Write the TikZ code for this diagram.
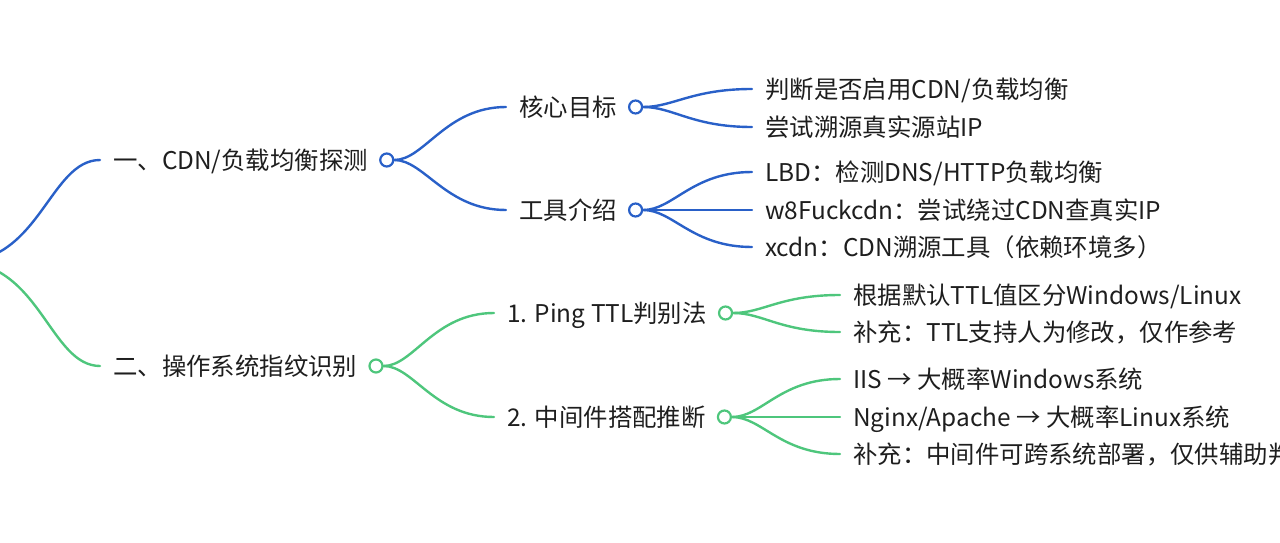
\documentclass[tikz,border=0pt]{standalone}
\usepackage{fontspec}
\setmainfont{Noto Sans CJK SC}
\definecolor{mmblue}{RGB}{41,96,200}
\definecolor{mmgreen}{RGB}{78,198,124}
\definecolor{mmtext}{RGB}{30,30,30}
\begin{document}
\begin{tikzpicture}[x=1pt,y=-1pt,
  lbl/.style={anchor=west,inner xsep=13pt,inner ysep=0pt,text=mmtext,
    font=\fontsize{24.4}{28}\selectfont,text height=21.3pt,text depth=3pt},
  dot/.style={circle,draw,line width=2.2pt,fill=white,minimum size=13pt,inner sep=0pt,anchor=west,xshift=-2pt},
  bl/.style={draw=mmblue,line width=2.4pt,line cap=round},
  gl/.style={draw=mmgreen,line width=2.4pt,line cap=round}]
\useasboundingbox (0,0) rectangle (1280,543);
\coordinate (root) at (-40,262);
% level 1
\node[lbl] (a) at (100,160) {一、CDN/负载均衡探测};
\node[lbl] (b) at (100,366) {二、操作系统指纹识别};
\node[dot,draw=mmblue] (ca) at (a.east) {};
\node[dot,draw=mmgreen] (cb) at (b.east) {};
% level 2
\node[lbl] (a1) at (506,107) {核心目标};
\node[lbl] (a2) at (506,210) {工具介绍};
\node[lbl] (b1) at (494,313) {1. Ping TTL判别法};
\node[lbl] (b2) at (494,417) {2. 中间件搭配推断};
\node[dot,draw=mmblue] (ca1) at (a1.east) {};
\node[dot,draw=mmblue] (ca2) at (a2.east) {};
\node[dot,draw=mmgreen] (cb1) at (b1.east) {};
\node[dot,draw=mmgreen] (cb2) at (b2.east) {};
% level 3
\node[lbl] (a11) at (752,89) {判断是否启用CDN/负载均衡};
\node[lbl] (a12) at (752,127) {尝试溯源真实源站IP};
\node[lbl] (a21) at (752,172) {LBD：检测DNS/HTTP负载均衡};
\node[lbl] (a22) at (752,210) {w8Fuckcdn：尝试绕过CDN查真实IP};
\node[lbl] (a23) at (752,247) {xcdn：CDN溯源工具（依赖环境多）};
\node[lbl] (b11) at (840,295) {根据默认TTL值区分Windows/Linux};
\node[lbl] (b12) at (840,332) {补充：TTL支持人为修改，仅作参考};
\node[lbl] (b21) at (840,379) {IIS → 大概率Windows系统};
\node[lbl] (b22) at (840,417) {Nginx/Apache → 大概率Linux系统};
\node[lbl] (b23) at (840,454) {补充：中间件可跨系统部署，仅供辅助判断};
% connectors
\draw[bl] (root) .. controls +(80,0) and +(-50,0) .. (a.west);
\draw[gl] (root) .. controls +(80,0) and +(-50,0) .. (b.west);
\foreach \p/\c in {ca/a1,ca/a2,ca1/a11,ca1/a12,ca2/a21,ca2/a22,ca2/a23}
  \draw[bl] (\p.east) .. controls +(30,0) and +(-60,0) .. (\c.west);
\foreach \p/\c in {cb/b1,cb/b2,cb1/b11,cb1/b12,cb2/b21,cb2/b22,cb2/b23}
  \draw[gl] (\p.east) .. controls +(30,0) and +(-60,0) .. (\c.west);
\end{tikzpicture}
\end{document}
